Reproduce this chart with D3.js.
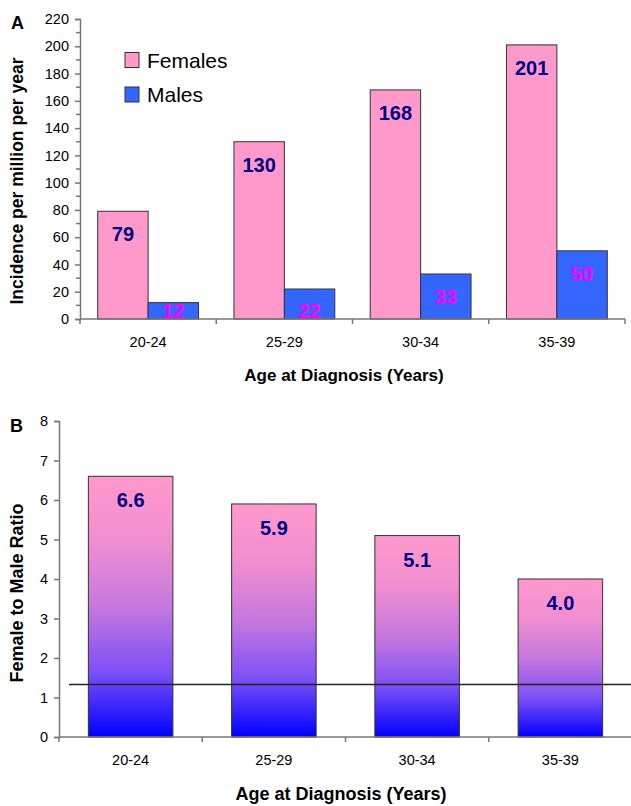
<!DOCTYPE html>
<html>
<head>
<meta charset="utf-8">
<script src="https://cdn.jsdelivr.net/npm/d3@7"></script>
<style>
  body { margin: 0; background: #fff; }
  svg { display: block; font-family: Arial, "Liberation Sans", sans-serif; }
</style>
</head>
<body>
<svg id="chart" width="631" height="806"></svg>
<script>
// Data
const ageGroups = ["20-24", "25-29", "30-34", "35-39"];
const females = [79, 130, 168, 201];
const males = [12, 22, 33, 50];
const ratios = [6.6, 5.9, 5.1, 4.0];
const refRatio = 1.33;
const yTicksA = [0, 20, 40, 60, 80, 100, 120, 140, 160, 180, 200, 220];
const yMinorA = [10, 30, 50, 70, 90, 110, 130, 150, 170, 190, 210];
const yTicksB = [0, 1, 2, 3, 4, 5, 6, 7, 8];

const svg = d3.select("#chart");
const axisColor = "#777";

// ---------- Panel A ----------
const xA = d3.scaleBand().domain(ageGroups).range([80, 625]).paddingInner(0.26).paddingOuter(0.13);
const sexA = d3.scaleBand().domain(["Females", "Males"]).range([0, xA.bandwidth()]);
const yA = d3.scaleLinear().domain([0, 220]).range([319, 19]);
const colA = { Females: "#FF99CC", Males: "#3366FF" };

const rowsA = ageGroups.map((g, i) => ({ group: g, Females: females[i], Males: males[i] }));

const gA = svg.append("g");

// bars
gA.selectAll(".grp")
  .data(rowsA)
  .enter()
  .append("g")
  .attr("transform", d => `translate(${xA(d.group)},0)`)
  .each(function (d) {
    const g = d3.select(this);
    ["Females", "Males"].forEach(s => {
      g.append("rect")
        .attr("x", sexA(s))
        .attr("y", yA(d[s]))
        .attr("width", sexA.bandwidth())
        .attr("height", yA(0) - yA(d[s]))
        .attr("fill", colA[s])
        .attr("stroke", "#333")
        .attr("stroke-width", 1);
      g.append("text")
        .attr("x", sexA(s) + sexA.bandwidth() / 2)
        .attr("y", Math.min(yA(d[s]) + 30, yA(0) - 1))
        .attr("text-anchor", "middle")
        .attr("font-size", 20)
        .attr("font-weight", "bold")
        .attr("fill", s === "Females" ? "#000080" : "#FF00FF")
        .text(d[s]);
    });
  });

// y axis A
gA.append("g")
  .attr("transform", "translate(80,0)")
  .call(d3.axisLeft(yA).tickValues(yTicksA).tickSize(5).tickPadding(6))
  .call(g => g.selectAll("text").attr("font-size", 14.5).attr("fill", "#000").attr("font-family", "Arial, 'Liberation Sans', sans-serif"))
  .call(g => g.selectAll("line, path").attr("stroke", axisColor).attr("stroke-width", 1.5));

gA.append("g")
  .selectAll("line")
  .data(yMinorA)
  .enter()
  .append("line")
  .attr("x1", 76).attr("x2", 80)
  .attr("y1", d => yA(d)).attr("y2", d => yA(d))
  .attr("stroke", axisColor).attr("stroke-width", 1.5);

// x axis with ticks between categories
function categoryAxis(g, x, y0) {
  const [r0, r1] = x.range();
  const bounds = x.domain().map(d => x(d) - x.paddingOuter() * x.step()).concat([r1]);
  g.append("line")
    .attr("x1", r0).attr("x2", r1)
    .attr("y1", y0).attr("y2", y0)
    .attr("stroke", axisColor).attr("stroke-width", 1.5);
  g.selectAll(".tk")
    .data(bounds)
    .enter()
    .append("line")
    .attr("x1", d => d).attr("x2", d => d)
    .attr("y1", y0).attr("y2", y0 + 5)
    .attr("stroke", axisColor).attr("stroke-width", 1.5);
  g.selectAll(".lbl")
    .data(x.domain())
    .enter()
    .append("text")
    .attr("x", d => x(d) + x.bandwidth() / 2)
    .attr("y", y0 + 28)
    .attr("text-anchor", "middle")
    .attr("font-size", 14.5)
    .text(d => d);
}
categoryAxis(gA.append("g"), xA, yA(0));

// legend
const legend = gA.append("g");
["Females", "Males"].forEach((s, i) => {
  legend.append("rect")
    .attr("x", 125).attr("y", 52.5 + i * 34.5)
    .attr("width", 14).attr("height", 15)
    .attr("fill", colA[s]).attr("stroke", "#333");
  legend.append("text")
    .attr("x", 147).attr("y", 67.5 + i * 34.5)
    .attr("font-size", 21)
    .text(s);
});

// titles A
gA.append("text").attr("x", 11).attr("y", 29).attr("font-size", 18).attr("font-weight", "bold").text("A");
gA.append("text")
  .attr("transform", "translate(23,181) rotate(-90)")
  .attr("text-anchor", "middle").attr("font-size", 17.5).attr("font-weight", "bold")
  .text("Incidence per million per year");
gA.append("text")
  .attr("x", 344).attr("y", 381)
  .attr("text-anchor", "middle").attr("font-size", 17).attr("font-weight", "bold")
  .text("Age at Diagnosis (Years)");

// ---------- Panel B ----------
const xB = d3.scaleBand().domain(ageGroups).range([59, 632]).paddingInner(0.41).paddingOuter(0.205);
const yB = d3.scaleLinear().domain([0, 8]).range([737, 421]);

const grad = svg.append("defs").append("linearGradient")
  .attr("id", "ratioGrad")
  .attr("x1", "0%").attr("x2", "0%").attr("y1", "0%").attr("y2", "100%");
[["0%", "#FF99CC"], ["25%", "#F08ED0"], ["50%", "#C678DE"], ["75%", "#7D50F6"], ["100%", "#0000FF"]]
  .forEach(([o, c]) => grad.append("stop").attr("offset", o).attr("stop-color", c));

const gB = svg.append("g");
const rowsB = ageGroups.map((g, i) => ({ group: g, value: ratios[i] }));

gB.selectAll(".bar")
  .data(rowsB)
  .enter()
  .append("rect")
  .attr("x", d => xB(d.group))
  .attr("y", d => yB(d.value))
  .attr("width", xB.bandwidth())
  .attr("height", d => yB(0) - yB(d.value))
  .attr("fill", "url(#ratioGrad)")
  .attr("stroke", "#333")
  .attr("stroke-width", 1);

gB.selectAll(".val")
  .data(rowsB)
  .enter()
  .append("text")
  .attr("x", d => xB(d.group) + xB.bandwidth() / 2)
  .attr("y", d => yB(d.value) + 31)
  .attr("text-anchor", "middle")
  .attr("font-size", 20)
  .attr("font-weight", "bold")
  .attr("fill", "#000080")
  .text(d => d.value.toFixed(1));

// reference line
gB.append("line")
  .attr("x1", 69).attr("x2", 631)
  .attr("y1", yB(refRatio)).attr("y2", yB(refRatio))
  .attr("stroke", "#222").attr("stroke-width", 1.5);

// y axis B
gB.append("g")
  .attr("transform", "translate(59,0)")
  .call(d3.axisLeft(yB).tickValues(yTicksB).tickSize(5).tickPadding(6))
  .call(g => g.selectAll("text").attr("font-size", 14.5).attr("fill", "#000").attr("font-family", "Arial, 'Liberation Sans', sans-serif"))
  .call(g => g.selectAll("line, path").attr("stroke", axisColor).attr("stroke-width", 1.5));

categoryAxis(gB.append("g"), xB, yB(0));

// titles B
gB.append("text").attr("x", 10).attr("y", 432).attr("font-size", 18).attr("font-weight", "bold").text("B");
gB.append("text")
  .attr("transform", "translate(23,593) rotate(-90)")
  .attr("text-anchor", "middle").attr("font-size", 18).attr("font-weight", "bold")
  .text("Female to Male Ratio");
gB.append("text")
  .attr("x", 341).attr("y", 800)
  .attr("text-anchor", "middle").attr("font-size", 18).attr("font-weight", "bold")
  .text("Age at Diagnosis (Years)");
</script>
</body>
</html>
